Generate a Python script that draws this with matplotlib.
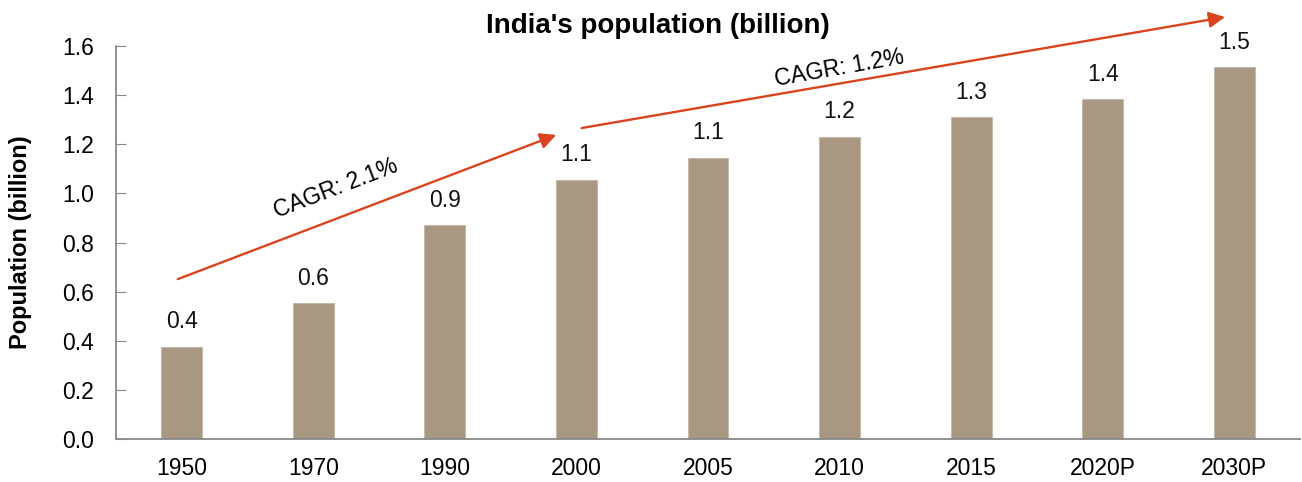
import matplotlib.pyplot as plt
import numpy as np

plt.rcParams['font.family'] = ['Liberation Sans', 'DejaVu Sans']

years = ['1950', '1970', '1990', '2000', '2005', '2010', '2015', '2020P', '2030P']
population = [0.375, 0.552, 0.871, 1.055, 1.144, 1.23, 1.31, 1.384, 1.513]
bar_labels = ['0.4', '0.6', '0.9', '1.1', '1.1', '1.2', '1.3', '1.4', '1.5']

fig = plt.figure(figsize=(13.02, 4.82), dpi=100)
ax = fig.add_axes([116 / 1302, 43 / 482, (1300 - 116) / 1302, (439 - 46) / 482])

x = np.arange(len(years))
ax.bar(x, population, width=0.31, color='#A89882', edgecolor='#C4B8A8', linewidth=0.8, zorder=2)

for xi, v, lab in zip(x, population, bar_labels):
    ax.text(xi, v + 0.055, lab, ha='center', va='bottom', fontsize=16.5, color='#111111')

ax.set_xlim(-0.5, len(years) - 0.5)
ax.set_ylim(0, 1.6)
ax.set_yticks(np.arange(0, 1.61, 0.2))
ax.set_yticklabels(['%.1f' % t for t in np.arange(0, 1.61, 0.2)])
ax.set_xticks(x)
ax.set_xticklabels(years)
ax.tick_params(axis='y', direction='in', length=7, color='#888888', labelsize=16.5, pad=16)
ax.tick_params(axis='x', length=0, labelsize=16.5, pad=13)

for s in ['top', 'right']:
    ax.spines[s].set_visible(False)
for s in ['left', 'bottom']:
    ax.spines[s].set_color('#888888')
    ax.spines[s].set_linewidth(1.3)

ax.set_ylabel('Population (billion)', fontsize=17, fontweight='bold', va='center')
ax.yaxis.set_label_coords(-0.081, 0.5)

# CAGR arrows
arrow_style = dict(arrowstyle='-|>', color='#D9441F', lw=1.7, mutation_scale=24, shrinkA=0, shrinkB=0)
ax.annotate('', xy=(2.846, 1.238), xytext=(-0.03, 0.651), arrowprops=arrow_style, annotation_clip=False)
ax.annotate('', xy=(7.93, 1.718), xytext=(3.04, 1.266), arrowprops=arrow_style, annotation_clip=False)

ax.text(1.17, 1.02, 'CAGR: 2.1%', rotation=21, ha='center', va='center', fontsize=16.5,
        rotation_mode='anchor')
ax.text(5.0, 1.51, 'CAGR: 1.2%', rotation=10, ha='center', va='center', fontsize=16.5,
        rotation_mode='anchor')

fig.text(0.505, 0.947, "India's population (billion)", ha='center', va='center',
         fontsize=20, fontweight='bold')

fig.savefig('out.png', dpi=100)
